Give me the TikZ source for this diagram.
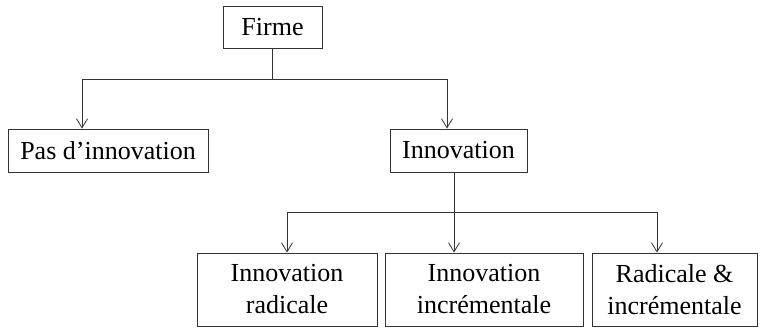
\documentclass[tikz,border=0pt]{standalone}
\usepackage{fontspec}
\setmainfont{Liberation Serif}
\usetikzlibrary{arrows.meta}
\begin{document}
\begin{tikzpicture}[x=1pt,y=-1pt,
  box/.style={draw=black!80, line width=1pt, inner sep=0pt, align=center,
    font=\fontsize{26}{32}\selectfont, text=black},
  conn/.style={draw=black!80, line width=1pt},
  arr/.style={conn, -{Straight Barb[length=9pt,width=11pt,line width=0.8pt]}}]
\useasboundingbox (0,0) rectangle (761,327);
\node[box, minimum width=99pt, minimum height=42pt] (firme) at (272.5,27) {Firme};
\node[box, minimum width=200pt, minimum height=43pt] (pas) at (108,150.5) {Pas d’innovation};
\node[box, minimum width=137pt, minimum height=43pt] (innov) at (458.5,150.5) {Innovation};
\node[box, minimum width=180pt, minimum height=73pt] (rad) at (287,289.5) {Innovation\\radicale};
\node[box, minimum width=198pt, minimum height=73pt] (inc) at (484,289.5) {Innovation\\incrémentale};
\node[box, minimum width=165pt, minimum height=73pt] (both) at (674.5,289.5) {Radicale \&\\incrémentale};
\coordinate (hL) at (82,79);
\coordinate (hR) at (447,79);
\draw[conn] (firme.south) -- (firme.south |- hL);
\draw[conn] (hL) -- (hR);
\draw[arr] (hL) -- (hL |- pas.north);
\draw[arr] (hR) -- (hR |- innov.north);
\coordinate (v) at (454,0);
\draw[arr] (v |- innov.south) -- (v |- inc.north);
\coordinate (bL) at (287,212);
\coordinate (bR) at (657,212);
\draw[conn] (bL) -- (bR);
\draw[arr] (bL) -- (bL |- rad.north);
\draw[arr] (bR) -- (bR |- both.north);
\end{tikzpicture}
\end{document}
